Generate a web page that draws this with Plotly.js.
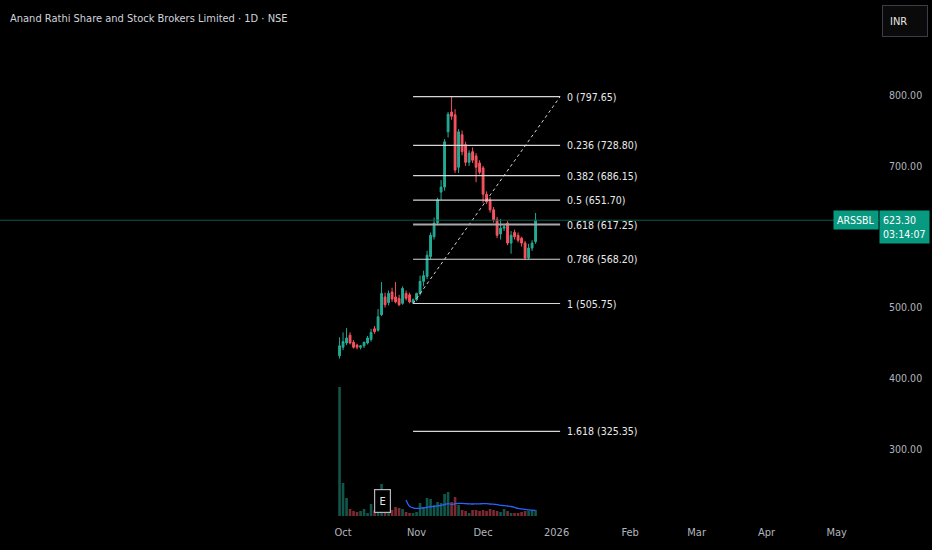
<!DOCTYPE html>
<html>
<head>
<meta charset="utf-8">
<script src="https://cdn.plot.ly/plotly-3.0.1.min.js"></script>
<style>
html,body{margin:0;padding:0;background:#000;}
#chart{width:932px;height:550px;}
</style>
</head>
<body>
<div id="chart"></div>
<script>
// ---- data (daily bars, index 0 = listing day) ----
const opens  = [432,444,450,461,451,447,444,446,450,455,470,468,490,515,507,522,515,513,506,520,518,507,511,520,537,544,572,600,620,663,670,748,776,772,698,744,730,705,720,714,704,697,660,652,638,624,604,612,619,591,606,602,598,591,570,584,593];
const highs  = [458,465,471,465,454,449,447,452,460,470,474,498,536,521,524,528,536,518,530,524,521,513,521,545,552,580,606,627,655,680,738,776,797.65,780,752,750,734,722,726,718,708,700,664,656,642,628,625,618,622,608,610,606,600,594,590,595,633.5];
const lows   = [428,440,447,448,442,441,441,443,448,452,463,466,488,500,503,508,506,502,504,510,506,505.75,509,517,530,540,568,596,616,652,665,740,765,690,690,715,700,700,704,677,688,648,646,634,620,598,596,608,588,576,596,592,586,568.2,568.5,580,590];
const closes = [446,452,457,450,444,444,446,451,457,465,466,487,520,504,520,512,508,504,527,513,508,511,520,537,545,574,602,619,652,670,734,773,770,694,748,720,705,718,708,698,691,660,649,638,624,602,612,614,591,602,600,595,591,570,584,591,623.3];
const volumes = [129,33,18,7,5,4,5,7,3,12,6,5,32,6,4,6,9,8,7,4,3,3,4,13,9,18,17,11,14,13,22,24,14,19,11,6,5,3,6,6,5,6,5,7,6,5,4,7,5,3,3,3,4,5,5,6,6];
// volume moving average as drawn (starts at bar 19)
const volMAStart = 19;
const volMA = [16,9.7,8.2,7.6,7.8,8.0,8.7,9.3,9.6,10.1,10.6,11.5,12.4,11.6,12.3,12.6,12.6,12.4,12.1,12.0,12.1,12.2,12.3,12.3,12.0,11.9,11.3,10.7,10.4,10.0,9.5,8.6,7.6,7.1,6.7,6.2,5.8,5.6];
// month tick labels (bar positions)
const monthTicks = [1,22,41,62,83,102,122,142];
const monthLabels = ['Oct','Nov','Dec','2026','Feb','Mar','Apr','May'];
const priceTicks = [300,400,500,700,800];
// fibonacci retracement
const fibRatios = ['0','0.236','0.382','0.5','0.618','0.786','1','1.618'];
const fibPrices = [797.65,728.80,686.15,651.70,617.25,568.20,505.75,325.35];
const fibStartBar = 21, fibEndBar = 63;
const lastPrice = 623.30, countdown = '03:14:07', symbol = 'ARSSBL';
const titleText = 'Anand Rathi Share and Stock Brokers Limited · 1D · NSE';

// ---- styling ----
const FONT = 'DejaVu Sans Condensed, Liberation Sans Narrow, sans-serif';
const UP = '#22ab94', DOWN = '#f7525f';
const VUP = 'rgba(34,171,148,0.5)', VDOWN = 'rgba(247,82,95,0.5)';

const idx = opens.map((_, i) => i);
const volColors = opens.map((o, i) => closes[i] >= o ? VUP : VDOWN);
const maX = volMA.map((_, i) => volMAStart + i);

const traces = [
  {
    type: 'bar', x: idx, y: volumes, yaxis: 'y2',
    marker: {color: volColors, line: {width: 0}}, width: 0.75, hoverinfo: 'skip'
  },
  {
    type: 'scatter', mode: 'lines', x: maX, y: volMA, yaxis: 'y2',
    line: {color: '#2962ff', width: 1.3, shape: 'spline'}, hoverinfo: 'skip'
  },
  {
    type: 'candlestick', x: idx, open: opens, high: highs, low: lows, close: closes,
    increasing: {line: {color: UP, width: 1}, fillcolor: UP},
    decreasing: {line: {color: DOWN, width: 1}, fillcolor: DOWN},
    whiskerwidth: 0, hoverinfo: 'skip'
  },
  {
    type: 'scatter', mode: 'lines',
    x: [fibStartBar, fibEndBar], y: [fibPrices[6], fibPrices[0]],
    line: {color: '#d6d6d6', width: 1, dash: '3px,3px'}, hoverinfo: 'skip'
  }
];

const shapes = [
  {type: 'line', xref: 'paper', x0: 0, x1: 1, yref: 'y', y0: lastPrice, y1: lastPrice,
   line: {color: '#0d5a4e', width: 1}}
];
fibPrices.forEach((p, k) => {
  const isGold = fibRatios[k] === '0.618';
  shapes.push({type: 'line', xref: 'x', x0: fibStartBar, x1: fibEndBar, yref: 'y', y0: p, y1: p,
    line: {color: isGold ? '#a8a8a8' : '#d6d6d6', width: isGold ? 2 : 1.2}});
});

const annotations = [
  {text: titleText, xref: 'paper', yref: 'paper', x: 0, y: 1, xanchor: 'left', yanchor: 'middle',
   xshift: 8, yshift: -18, showarrow: false, font: {family: FONT, size: 11, color: '#d1d4dc'}},
  {text: 'INR', xref: 'paper', yref: 'paper', x: 1, y: 1, xanchor: 'left', yanchor: 'top',
   xshift: 3, yshift: -5, showarrow: false, font: {family: FONT, size: 11, color: '#e6e6e6'},
   bordercolor: '#3a3e4a', borderwidth: 1, bgcolor: '#0a0a0a', borderpad: 7, width: 30, height: 16, align: 'left'},
  {text: symbol, xref: 'paper', yref: 'y', x: 1, y: lastPrice, xanchor: 'right', yanchor: 'middle',
   showarrow: false, font: {family: FONT, size: 10.5, color: '#ffffff'}, bgcolor: '#089981', borderpad: 3},
  {text: lastPrice.toFixed(2) + '<br>' + countdown, xref: 'paper', yref: 'y', x: 1, y: lastPrice,
   xanchor: 'left', yanchor: 'top', yshift: 10, xshift: 0, showarrow: false, align: 'left',
   font: {family: FONT, size: 10.5, color: '#ffffff'}, bgcolor: '#089981', borderpad: 3, width: 43},
  {text: 'E', xref: 'x', yref: 'paper', x: 12.3, y: (518 - 501) / 518, xanchor: 'center', yanchor: 'middle',
   showarrow: false, font: {family: FONT, size: 11, color: '#e6e6e6'},
   bordercolor: '#b2b5be', borderwidth: 1.2, bgcolor: '#000000', borderpad: 3, width: 9, height: 16}
];
fibPrices.forEach((p, k) => {
  annotations.push({text: fibRatios[k] + ' (' + p.toFixed(2) + ')', xref: 'x', yref: 'y',
    x: fibEndBar, y: p, xanchor: 'left', yanchor: 'middle', xshift: 5, showarrow: false,
    font: {family: FONT, size: 10.5, color: '#eaeaea'}});
});

const layout = {
  width: 932, height: 550,
  paper_bgcolor: '#000000', plot_bgcolor: '#000000',
  margin: {l: 0, r: 53, t: 0, b: 32, pad: 0},
  showlegend: false,
  boxgap: 0.25,
  xaxis: {
    range: [-97, 154.1], tickmode: 'array', tickvals: monthTicks, ticktext: monthLabels,
    showgrid: false, zeroline: false, showline: false, rangeslider: {visible: false},
    ticks: 'outside', ticklen: 4, tickcolor: 'rgba(0,0,0,0)',
    tickfont: {family: FONT, size: 11, color: '#b2b5be'}, fixedrange: true
  },
  yaxis: {
    range: [203, 934.1], side: 'right', tickmode: 'array', tickvals: priceTicks, tickformat: '.2f',
    showgrid: false, zeroline: false, showline: false,
    ticks: 'outside', ticklen: 7, tickcolor: 'rgba(0,0,0,0)',
    tickfont: {family: FONT, size: 10.5, color: '#b2b5be'}, fixedrange: true
  },
  yaxis2: {overlaying: 'y', range: [-2, 516], visible: false, fixedrange: true},
  shapes: shapes,
  annotations: annotations
};

Plotly.newPlot('chart', traces, layout, {displayModeBar: false, staticPlot: true});
</script>
</body>
</html>
